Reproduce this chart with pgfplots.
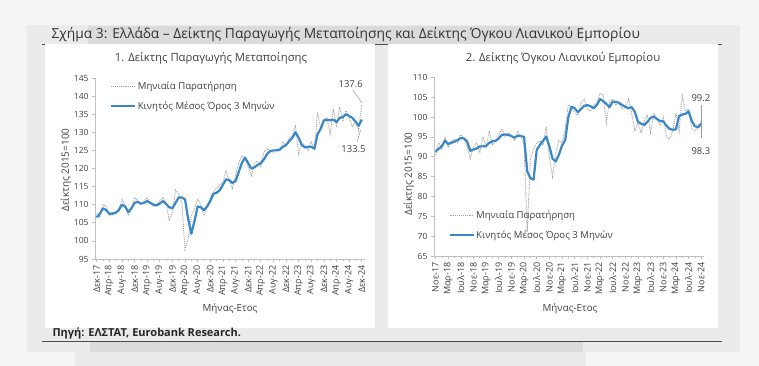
\documentclass[border=0pt]{standalone}
\usepackage{pgfplots}
\usepackage{pgfplotstable}
\pgfplotsset{compat=1.18}
\usepackage{fontspec}
\setmainfont{Open Sans}
\definecolor{maBlue}{HTML}{3A87C8}
\definecolor{obsGrey}{HTML}{A0A0A0}
\definecolor{txt}{HTML}{404040}
\definecolor{axgrey}{HTML}{BFBFBF}

\pgfplotstableread{
idx m ma
0 107.5 106.5
1 106.5 107.5
2 110.0 109.0
3 109.5 108.5
4 107.0 107.5
5 108.0 107.5
6 107.5 107.8
7 108.5 108.5
8 111.5 110.0
9 110.0 109.5
10 107.0 108.0
11 108.5 109.0
12 112.0 110.5
13 111.0 110.8
14 110.0 110.3
15 111.0 110.5
16 112.0 111.0
17 110.5 110.5
18 109.5 110.0
19 110.0 109.8
20 111.0 110.3
21 112.0 111.0
22 110.5 110.2
23 105.5 109.3
24 108.0 109.0
25 114.0 110.5
26 113.0 112.0
27 110.5 112.0
28 97.7 111.5
29 100.5 106.0
30 107.0 102.0
31 109.0 105.5
32 111.5 109.5
33 110.0 109.3
34 107.0 108.5
35 109.5 109.5
36 112.0 111.0
37 113.5 113.0
38 114.5 113.3
39 115.5 114.0
40 116.0 115.5
41 119.5 117.0
42 116.5 116.8
43 114.5 116.0
44 118.0 116.5
45 121.5 119.0
46 123.5 121.5
47 123.0 123.0
48 120.5 121.5
49 118.0 120.0
50 121.5 120.3
51 122.0 121.0
52 120.5 121.5
53 124.5 122.5
54 125.5 124.0
55 125.0 124.8
56 124.5 125.0
57 125.5 125.0
58 125.0 125.2
59 127.5 126.0
60 126.0 126.5
61 128.5 127.5
62 129.0 128.5
63 132.0 130.0
64 124.0 128.5
65 127.0 126.5
66 126.5 125.8
67 125.0 126.0
68 127.5 126.0
69 125.0 125.5
70 135.5 129.5
71 131.0 131.0
72 133.5 133.3
73 134.0 133.5
74 129.5 133.3
75 136.5 133.5
76 132.0 132.8
77 137.0 134.0
78 133.0 134.2
79 136.0 135.0
80 134.0 134.5
81 131.5 134.0
82 133.0 133.0
83 130.5 131.8
84 137.6 133.5
}\tabLeft

\pgfplotstableread{
idx m ma
0 90.5 91.3
1 93.5 92.0
2 92.0 92.6
3 95.0 94.1
4 92.5 93.2
5 94.0 93.5
6 94.5 93.8
7 93.5 94.2
8 95.5 94.7
9 94.5 94.6
10 92.5 93.8
11 89.5 91.5
12 92.5 91.8
13 93.5 92.1
14 91.0 92.6
15 95.0 92.6
16 92.5 92.7
17 96.5 93.5
18 93.0 93.9
19 94.0 94.0
20 95.5 94.6
21 97.0 95.5
22 95.0 95.6
23 96.0 95.5
24 95.5 95.2
25 94.0 94.8
26 96.5 95.3
27 95.0 95.2
28 93.0 95.0
29 71.0 86.3
30 89.5 84.6
31 92.0 84.2
32 93.5 91.7
33 94.0 93.0
34 93.0 94.0
35 97.5 95.1
36 90.0 92.6
37 85.0 89.5
38 91.0 88.8
39 94.0 90.5
40 93.5 92.8
41 97.0 94.2
42 103.0 100.0
43 102.5 102.6
44 101.0 102.2
45 100.5 101.2
46 103.5 102.0
47 104.5 102.8
48 102.0 103.0
49 101.5 102.7
50 103.0 102.2
51 103.5 103.0
52 106.0 104.5
53 105.5 104.0
54 98.5 103.3
55 104.0 102.5
56 104.5 103.9
57 103.0 103.8
58 103.5 103.6
59 102.0 103.0
60 102.5 102.6
61 104.5 102.2
62 101.0 102.5
63 96.5 101.3
64 98.5 98.8
65 96.0 98.3
66 99.0 98.0
67 100.5 98.8
68 96.0 99.8
69 101.0 100.1
70 99.5 99.5
71 98.0 99.0
72 100.0 98.9
73 95.0 97.8
74 94.5 97.0
75 96.5 96.8
76 101.0 96.9
77 96.5 100.3
78 105.5 100.6
79 101.5 100.8
80 102.0 101.4
81 97.0 99.0
82 96.5 97.7
83 97.5 97.4
84 99.2 98.3
}\tabRight

\pgfplotsset{
  panel/.style={
    scale only axis,
    axis lines*=left,
    axis line style={draw=axgrey, line width=0.6pt},
    tick style={draw=axgrey, line width=0.6pt},
    tick align=outside,
    major tick length=3pt,
    minor tick length=2pt,
    minor x tick num=1,
    xmin=-0.5, xmax=85,
    xtick={0,4,...,84},
    /pgf/number format/assume math mode=true,
    yticklabel style={font=\fontsize{8.5}{8.5}\selectfont, text=txt},
    xticklabel style={font=\fontsize{9}{9}\selectfont, text=txt, rotate=90, anchor=east},
    clip=false,
    legend cell align=left,
    legend image code/.code={\draw[##1] (0pt,0pt) -- (24pt,0pt);},
  },
  obs/.style={color=obsGrey, densely dotted, line width=0.9pt},
  mav/.style={color=maBlue, line width=2.2pt, line join=round},
}

\begin{document}
\begin{tikzpicture}[x=1pt,y=1pt]
\useasboundingbox (0,0) rectangle (759,366);
\fill[white!96!black] (0,0) rectangle (759,366);
\fill[white!92!black] (27,14) rectangle (740,341);
\fill[white!86!black] (88,321) rectangle (583,340);
\fill[white!92!black] (75,0) rectangle (586,14);
\fill[white!86!black] (90,14) rectangle (583,25);
\draw[black!70, line width=0.8pt] (42,321.5) -- (722,321.5);
\fill[white] (45,38) rectangle (375,322);
\fill[white] (388,38) rectangle (718,322);
\node[anchor=base west, text=black!80, font=\fontsize{13.8}{14}\selectfont] at (48,327) {Σχήμα 3: Ελλάδα – Δείκτης Παραγωγής Μεταποίησης και Δείκτης Όγκου Λιανικού Εμπορίου};
\draw[black!70, line width=0.8pt] (42,25) -- (722,25);
\node[anchor=base west, text=black!85, font=\fontsize{11}{11}\selectfont\bfseries] at (49,29) {Πηγή: ΕΛΣΤΑΤ, Eurobank Research.};

\node[text=txt, font=\fontsize{11.3}{11.3}\selectfont] at (211,308) {1. Δείκτης Παραγωγής Μεταποίησης};
\node[text=txt, font=\fontsize{11.3}{11.3}\selectfont] at (563,308) {2. Δείκτης Όγκου Λιανικού Εμπορίου};

\node[text=txt, rotate=90, font=\fontsize{10}{10}\selectfont] at (66,196) {Δείκτης 2015=100};
\node[text=txt, rotate=90, font=\fontsize{10}{10}\selectfont] at (409,192) {Δείκτης 2015=100};
\node[text=txt, font=\fontsize{9.8}{9.8}\selectfont] at (230,57) {Μήνας-Ετος};
\node[text=txt, font=\fontsize{9.8}{9.8}\selectfont] at (570,57) {Μήνας-Ετος};

% left
\begin{axis}[panel, at={(95.1pt,107pt)}, anchor=south west,
  width=269.8pt, height=181pt,
  ymin=95, ymax=145, ytick={95,100,...,145},
  xticklabels={Δεκ-17,Απρ-18,Αυγ-18,Δεκ-18,Απρ-19,Αυγ-19,Δεκ-19,Απρ-20,Αυγ-20,Δεκ-20,Απρ-21,Αυγ-21,Δεκ-21,Απρ-22,Αυγ-22,Δεκ-22,Απρ-23,Αυγ-23,Δεκ-23,Απρ-24,Αυγ-24,Δεκ-24},
  legend style={at={(0.055,0.99)}, anchor=north west, draw=none, fill=none,
    font=\fontsize{9.6}{9.6}\selectfont, text=txt, row sep=8pt, inner sep=0pt,
    nodes={inner sep=1.5pt}},
]
\addplot[obs] table[x=idx,y=m] {\tabLeft};
\addlegendentry{Μηνιαία Παρατήρηση}
\addplot[mav] table[x=idx,y=ma] {\tabLeft};
\addlegendentry{Κινητός Μέσος Όρος 3 Μηνών}
\node[text=txt, font=\fontsize{9.5}{9.5}\selectfont] at (axis cs:80.5,143.3) {137.6};
\draw[black!40, line width=0.5pt] (axis cs:81.2,141.6) -- (axis cs:84,138.2);
\node[text=txt, font=\fontsize{9.5}{9.5}\selectfont] at (axis cs:81.4,125.4) {133.5};
\draw[black!40, line width=0.5pt] (axis cs:82.6,127.4) -- (axis cs:83.6,130.6);
\end{axis}

% right
\begin{axis}[panel, at={(433.9pt,110pt)}, anchor=south west,
  width=270.5pt, height=178.7pt,
  ymin=65, ymax=110, ytick={65,70,...,110},
  xticklabels={Νοε-17,Μαρ-18,Ιουλ-18,Νοε-18,Μαρ-19,Ιουλ-19,Νοε-19,Μαρ-20,Ιουλ-20,Νοε-20,Μαρ-21,Ιουλ-21,Νοε-21,Μαρ-22,Ιουλ-22,Νοε-22,Μαρ-23,Ιουλ-23,Νοε-23,Μαρ-24,Ιουλ-24,Νοε-24},
  legend style={at={(0.053,0.265)}, anchor=north west, draw=none, fill=none,
    font=\fontsize{9.6}{9.6}\selectfont, text=txt, row sep=8pt, inner sep=0pt,
    nodes={inner sep=1.5pt}},
]
\addplot[obs] table[x=idx,y=m] {\tabRight};
\addlegendentry{Μηνιαία Παρατήρηση}
\addplot[mav] table[x=idx,y=ma] {\tabRight};
\addlegendentry{Κινητός Μέσος Όρος 3 Μηνών}
\node[text=txt, font=\fontsize{9.5}{9.5}\selectfont] at (axis cs:83.9,104.7) {99.2};
\draw[black!40, line width=0.5pt] (axis cs:84,103) -- (axis cs:84,94.6);
\node[text=txt, font=\fontsize{9.5}{9.5}\selectfont] at (axis cs:83.9,91.3) {98.3};
\end{axis}
\end{tikzpicture}
\end{document}
